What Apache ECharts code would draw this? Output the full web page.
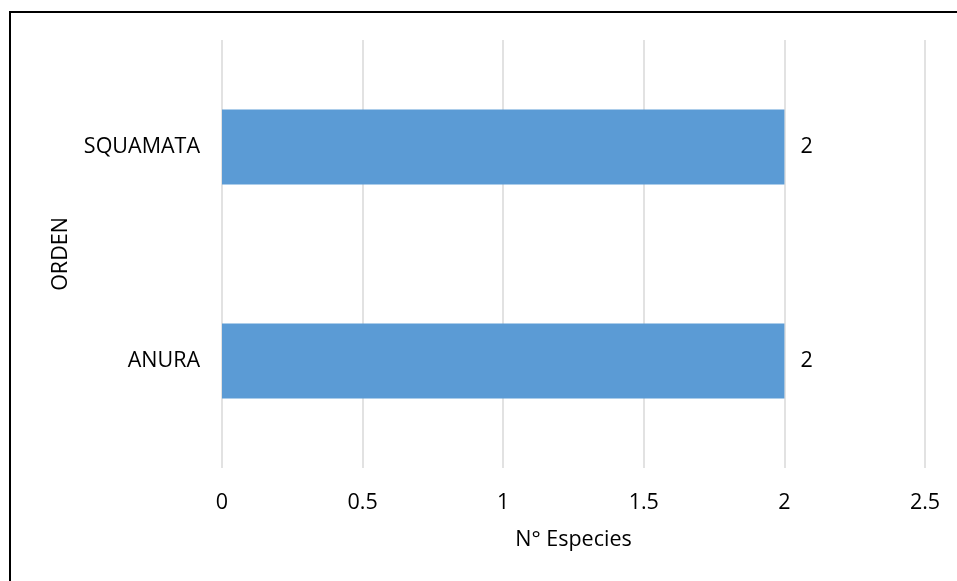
<!DOCTYPE html>
<html>
<head>
<meta charset="utf-8">
<script src="https://cdn.jsdelivr.net/npm/echarts@6/dist/echarts.min.js"></script>
<style>
html,body{margin:0;padding:0;background:#fff;}
#chart{width:957px;height:581px;}
</style>
</head>
<body>
<div id="chart"></div>
<script>
const categories = ['ANURA', 'SQUAMATA'];
const especies = [2, 2];
const xTicks = [0, 0.5, 1, 1.5, 2, 2.5];

const FONT = 'Open Sans';
const FS = 21.5;
const chart = echarts.init(document.getElementById('chart'), null, {renderer: 'canvas'});
chart.setOption({
  backgroundColor: '#ffffff',
  animation: false,
  textStyle: {fontFamily: FONT},
  graphic: [{
    type: 'polyline',
    shape: {points: [[10, 600], [10, 12], [1000, 12]]},
    style: {fill: 'none', stroke: '#000000', lineWidth: 2},
    silent: true
  }],
  grid: {left: 222, right: 32, top: 40, bottom: 113, containLabel: false},
  xAxis: {
    type: 'value',
    min: xTicks[0],
    max: xTicks[xTicks.length - 1],
    interval: 0.5,
    name: 'N° Especies',
    nameLocation: 'middle',
    nameGap: 61,
    nameTextStyle: {fontFamily: FONT, fontSize: FS, color: '#000'},
    axisLine: {show: false},
    axisTick: {show: false},
    axisLabel: {fontFamily: FONT, fontSize: FS, color: '#000', margin: 24},
    splitLine: {show: true, lineStyle: {color: '#d9d9d9', width: 1.5}}
  },
  yAxis: {
    type: 'category',
    data: categories,
    name: 'ORDEN',
    nameLocation: 'middle',
    nameGap: 150,
    nameTextStyle: {fontFamily: FONT, fontSize: FS, color: '#000'},
    axisLine: {show: false},
    axisTick: {show: false},
    axisLabel: {fontFamily: FONT, fontSize: FS, color: '#000', margin: 22},
    splitLine: {show: false}
  },
  series: [{
    type: 'bar',
    data: especies,
    barWidth: 75,
    itemStyle: {color: '#5b9bd5'},
    label: {
      show: true,
      position: 'right',
      distance: 16,
      fontFamily: FONT,
      fontSize: FS,
      color: '#000'
    }
  }]
});
</script>
</body>
</html>
